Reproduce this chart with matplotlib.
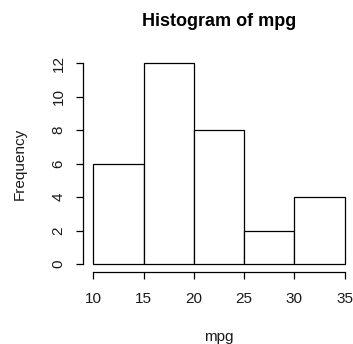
import matplotlib
matplotlib.use("Agg")
import matplotlib.pyplot as plt

# mpg histogram counts per 5-unit bin
bin_edges = [10, 15, 20, 25, 30, 35]
counts = [6, 12, 8, 2, 4]
x_ticks = [10, 15, 20, 25, 30, 35]
y_ticks = [0, 2, 4, 6, 8, 10, 12]

plt.rcParams["font.family"] = ["Liberation Sans", "DejaVu Sans"]

W, H = 353, 344
fig = plt.figure(figsize=(W / 100, H / 100), dpi=100)
left, right, top, bottom = 83.2, 354.8, 55.3, 272.0
ax = fig.add_axes([left / W, 1 - bottom / H, (right - left) / W, (bottom - top) / H])

ax.hist(bin_edges[:-1], bins=bin_edges, weights=counts,
        facecolor="white", edgecolor="black", linewidth=0.9)

# R-style extended ranges (4% padding)
ax.set_xlim(9, 36)
ax.set_ylim(-0.48, 12.48)

for s in ("top", "right"):
    ax.spines[s].set_visible(False)
ax.spines["left"].set_bounds(0, 12)
ax.spines["bottom"].set_bounds(10, 35)
for s in ("left", "bottom"):
    ax.spines[s].set_linewidth(0.9)

txt = "#1a1a1a"
ax.set_xticks(x_ticks)
ax.set_yticks(y_ticks)
ax.set_xticklabels([str(v) for v in x_ticks])
ax.set_yticklabels([str(v) for v in y_ticks], rotation=90, va="center")
ax.tick_params(direction="out", length=5.2, width=0.9, labelsize=11,
               color="black", labelcolor=txt)
ax.tick_params(axis="x", pad=9.5)
ax.tick_params(axis="y", pad=7.5)

ax.set_title("Histogram of mpg", fontsize=13, fontweight="bold", y=1.155,
             va="center", color="black", pad=0)
ax.set_xlabel("mpg", fontsize=11, color=txt)
ax.xaxis.set_label_coords(0.5, -0.298)
ax.xaxis.label.set_va("center")
ax.set_ylabel("Frequency", fontsize=11, color=txt)
ax.yaxis.set_label_coords(-0.2327, 0.5)
ax.yaxis.label.set_va("center")

fig.savefig("out.png", dpi=100)
